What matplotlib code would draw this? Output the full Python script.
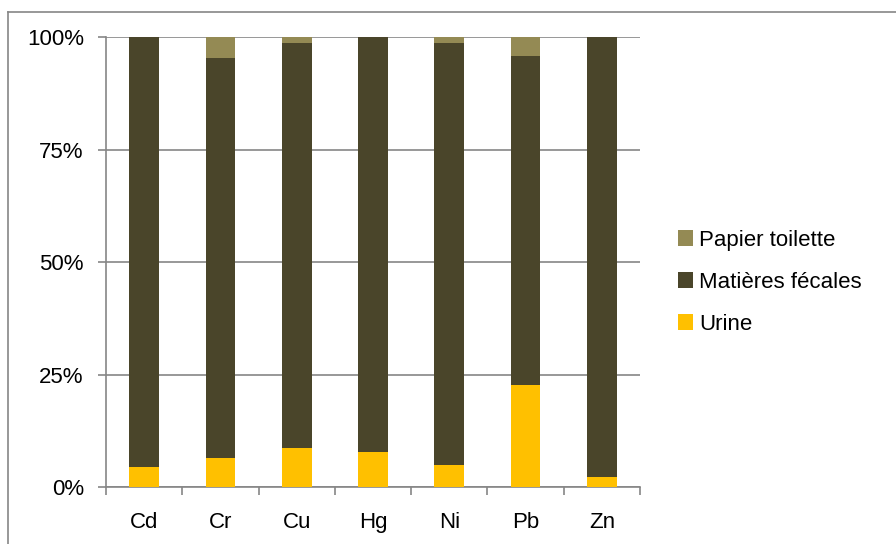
import numpy as np
import matplotlib.pyplot as plt
from matplotlib.lines import Line2D

# Data (percent of total per metal)
metals = ['Cd', 'Cr', 'Cu', 'Hg', 'Ni', 'Pb', 'Zn']
urine = [4.5, 6.6, 8.7, 7.8, 5.0, 22.8, 2.4]
fecal_top = [100, 95.5, 98.8, 100, 98.8, 95.8, 100]
fecal = [t - u for t, u in zip(fecal_top, urine)]
paper = [100 - t for t in fecal_top]

plt.rcParams['font.family'] = ['Liberation Sans', 'DejaVu Sans']

fig = plt.figure(figsize=(8.96, 5.44), dpi=100)
ax = fig.add_axes([0.1183, 0.1042, 0.596, 0.827])

x = np.arange(len(metals))
w = 0.39
ax.bar(x, urine, w, color='#FFC000', label='Urine', zorder=3)
ax.bar(x, fecal, w, bottom=urine, color='#4A452A', label='Matières fécales', zorder=3)
ax.bar(x, paper, w, bottom=fecal_top, color='#948A54', label='Papier toilette', zorder=3)

ax.set_xlim(-0.5, len(metals) - 0.5)
ax.set_ylim(0, 100)
ax.set_yticks([0, 25, 50, 75, 100])
ax.set_yticklabels(['0%', '25%', '50%', '75%', '100%'])
ax.yaxis.grid(True, color='#868686', linewidth=1.2, zorder=0)

ax.set_xticks(x)
ax.set_xticklabels(metals)
ax.set_xticks(np.arange(-0.5, len(metals)), minor=True)
ax.tick_params(axis='x', which='major', length=0, pad=18, labelsize=16)
ax.tick_params(axis='x', which='minor', length=6, color='#868686', width=1.2)
ax.tick_params(axis='y', length=6, color='#868686', width=1.2, labelsize=16, pad=10)

for s in ['top', 'right']:
    ax.spines[s].set_visible(False)
for s in ['left', 'bottom']:
    ax.spines[s].set_color('#868686')
    ax.spines[s].set_linewidth(1.2)

handles, labels = ax.get_legend_handles_labels()
ax.legend(handles[::-1], labels[::-1], loc='center left', bbox_to_anchor=(1.05, 0.456),
          frameon=False, fontsize=16, handlelength=0.7, handleheight=0.7,
          handletextpad=0.25, labelspacing=0.95, borderpad=0)

# chart area border (only left and top edges visible in the crop)
fig.add_artist(Line2D([8 / 896, 8 / 896], [0, 1 - 12 / 544], color='#868686', lw=1.2,
                      transform=fig.transFigure))
fig.add_artist(Line2D([8 / 896, 1], [1 - 12 / 544, 1 - 12 / 544], color='#868686', lw=1.2,
                      transform=fig.transFigure))

fig.savefig('out.png', dpi=100)
